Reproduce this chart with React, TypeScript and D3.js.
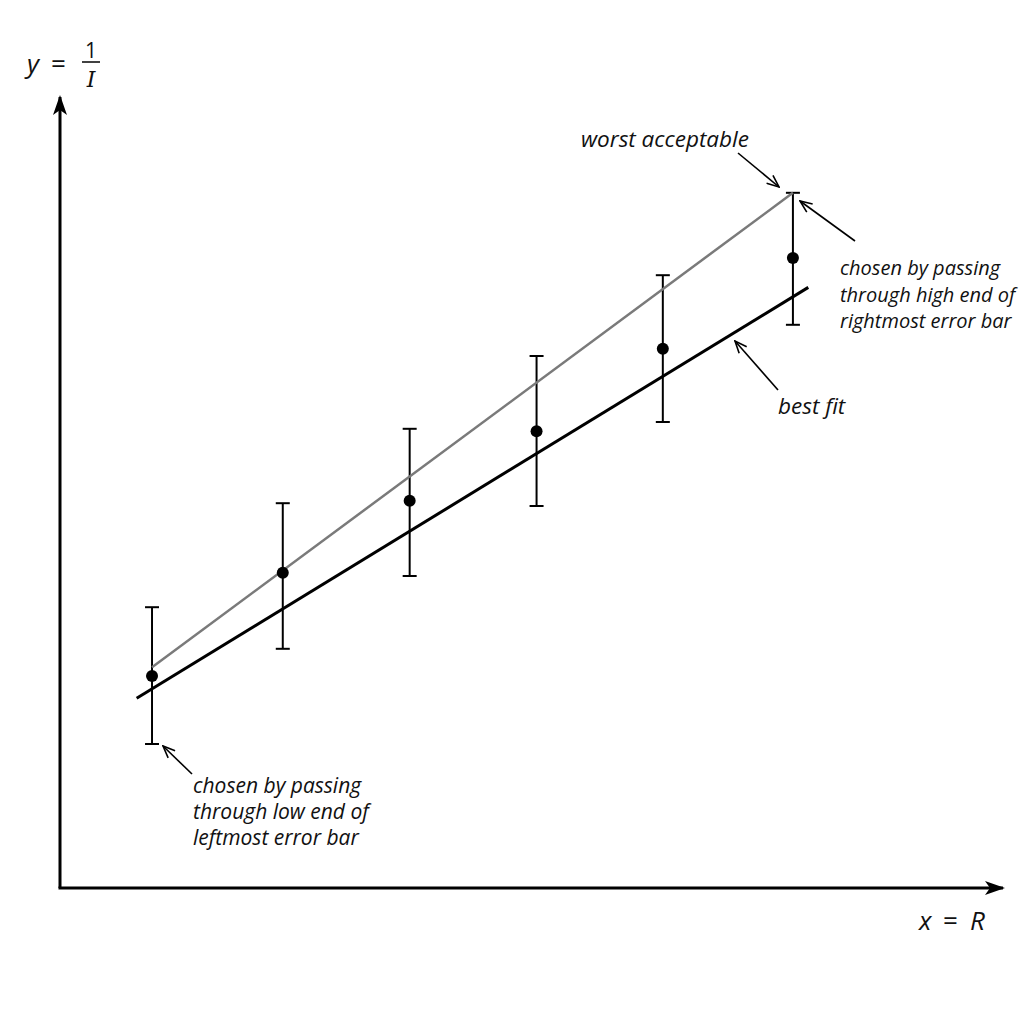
import React, { useEffect, useRef } from 'react';
import * as d3 from 'd3';

// data (x = R, y = 1/I, arbitrary units)
const rValues = [1, 2.02, 3.01, 4, 4.985, 6];
const yValues = [2.65, 3.94, 4.84, 5.71, 6.74, 7.875];
const yLow = [1.8, 2.99, 3.9, 4.775, 5.825, 7.04];
const yHigh = [3.51, 4.81, 5.74, 6.65, 7.66, 8.69];

// best fit line: slope / intercept and its x extent
const bestFit = { slope: 0.98, intercept: 1.51 };
const bestFitRange = [0.88, 6.12];
// worst acceptable: through the leftmost point and the high end of the rightmost bar
const worstStart = [1, 2.76];

const W = 1024;
const H = 1024;

const App: React.FC = () => {
  const svgRef = useRef<SVGSVGElement>(null);

  useEffect(() => {
    if (!svgRef.current) return;
    const svg = d3.select(svgRef.current);
    svg.selectAll('*').remove();

    const x = d3.scaleLinear().domain([0.282, 7.6]).range([60, 998]);
    const y = d3.scaleLinear().domain([0, 10]).range([888, 88]);

    const font = "'Open Sans', 'DejaVu Sans', sans-serif";

    const defs = svg.append('defs');
    defs.append('marker')
      .attr('id', 'axisHead')
      .attr('viewBox', '0 0 20 14')
      .attr('refX', 18).attr('refY', 7)
      .attr('markerWidth', 20).attr('markerHeight', 14)
      .attr('markerUnits', 'userSpaceOnUse')
      .attr('orient', 'auto')
      .append('path')
      .attr('d', 'M0,0 L20,7 L0,14 L5,7 Z')
      .attr('fill', '#000');
    defs.append('marker')
      .attr('id', 'openHead')
      .attr('viewBox', '0 0 14 12')
      .attr('refX', 13).attr('refY', 6)
      .attr('markerWidth', 14).attr('markerHeight', 12)
      .attr('markerUnits', 'userSpaceOnUse')
      .attr('orient', 'auto')
      .append('path')
      .attr('d', 'M1,1 L13,6 L1,11')
      .attr('fill', 'none')
      .attr('stroke', '#000')
      .attr('stroke-width', 1.6);

    // axes
    svg.append('line')
      .attr('x1', 60).attr('y1', 888).attr('x2', 60).attr('y2', 97)
      .attr('stroke', '#000').attr('stroke-width', 3)
      .attr('marker-end', 'url(#axisHead)');
    svg.append('line')
      .attr('x1', 58.5).attr('y1', 888).attr('x2', 1003).attr('y2', 888)
      .attr('stroke', '#000').attr('stroke-width', 3)
      .attr('marker-end', 'url(#axisHead)');

    // error bars
    const bars = svg.append('g').attr('stroke', '#000').attr('stroke-width', 2);
    rValues.forEach((r, i) => {
      const cx = x(r);
      bars.append('line').attr('x1', cx).attr('x2', cx).attr('y1', y(yLow[i])).attr('y2', y(yHigh[i]));
      bars.append('line').attr('x1', cx - 7).attr('x2', cx + 7).attr('y1', y(yLow[i])).attr('y2', y(yLow[i]));
      bars.append('line').attr('x1', cx - 7).attr('x2', cx + 7).attr('y1', y(yHigh[i])).attr('y2', y(yHigh[i]));
    });

    const line = d3.line<number[]>().x(d => x(d[0])).y(d => y(d[1]));

    // worst acceptable line
    svg.append('path')
      .attr('d', line([worstStart, [rValues[5], yHigh[5]]]))
      .attr('stroke', '#7a7a7a').attr('stroke-width', 2.5).attr('fill', 'none');

    // best fit line
    svg.append('path')
      .attr('d', line(bestFitRange.map(v => [v, bestFit.slope * v + bestFit.intercept])))
      .attr('stroke', '#000').attr('stroke-width', 3).attr('fill', 'none');

    // points
    svg.append('g')
      .selectAll('circle')
      .data(rValues)
      .enter().append('circle')
      .attr('cx', d => x(d))
      .attr('cy', (_, i) => y(yValues[i]))
      .attr('r', 6)
      .attr('fill', '#000');

    // annotations
    const ann = svg.append('g')
      .style('font-family', font)
      .style('font-style', 'italic')
      .attr('fill', '#111');

    const addText = (tx: number, ty: number, lines: string[], size: number, dy = 26.5) => {
      const t = ann.append('text').attr('x', tx).attr('y', ty).style('font-size', `${size}px`);
      lines.forEach((s, i) => {
        t.append('tspan').attr('x', tx).attr('dy', i === 0 ? 0 : dy).text(s);
      });
    };

    addText(581, 147, ['worst acceptable'], 22.5);
    addText(840, 275, ['chosen by passing', 'through high end of', 'rightmost error bar'], 20);
    addText(778, 414, ['best fit'], 22.5);
    addText(193, 793, ['chosen by passing', 'through low end of', 'leftmost error bar'], 21, 26);

    const arrows = [
      [738, 153, 779, 187],
      [855, 241, 800, 201],
      [778, 390, 735, 341],
      [192, 774, 163, 746],
    ];
    svg.append('g')
      .selectAll('line')
      .data(arrows)
      .enter().append('line')
      .attr('x1', d => d[0]).attr('y1', d => d[1])
      .attr('x2', d => d[2]).attr('y2', d => d[3])
      .attr('stroke', '#000').attr('stroke-width', 1.6)
      .attr('marker-end', 'url(#openHead)');

    // axis labels
    const lab = svg.append('g')
      .style('font-family', font)
      .style('font-size', '26px')
      .attr('fill', '#111');
    lab.append('text').attr('x', 27).attr('y', 73).style('font-style', 'italic').text('y');
    lab.append('text').attr('x', 51).attr('y', 73).text('=');
    lab.append('text').attr('x', 91).attr('y', 58).attr('text-anchor', 'middle').style('font-size', '21px').text('1');
    lab.append('line').attr('x1', 82).attr('x2', 100).attr('y1', 62).attr('y2', 62)
      .attr('stroke', '#111').attr('stroke-width', 1.6);
    lab.append('text').attr('x', 91).attr('y', 87).attr('text-anchor', 'middle')
      .style('font-family', "'DejaVu Serif', serif").style('font-style', 'italic').style('font-size', '22px').text('I');

    lab.append('text').attr('x', 919).attr('y', 930).style('font-style', 'italic').text('x');
    lab.append('text').attr('x', 943).attr('y', 930).text('=');
    lab.append('text').attr('x', 970).attr('y', 930).style('font-style', 'italic').text('R');
  }, []);

  return (
    <svg
      ref={svgRef}
      width={W}
      height={H}
      style={{ position: 'absolute', left: 0, top: 0, background: '#fff' }}
    />
  );
};

export default App;
